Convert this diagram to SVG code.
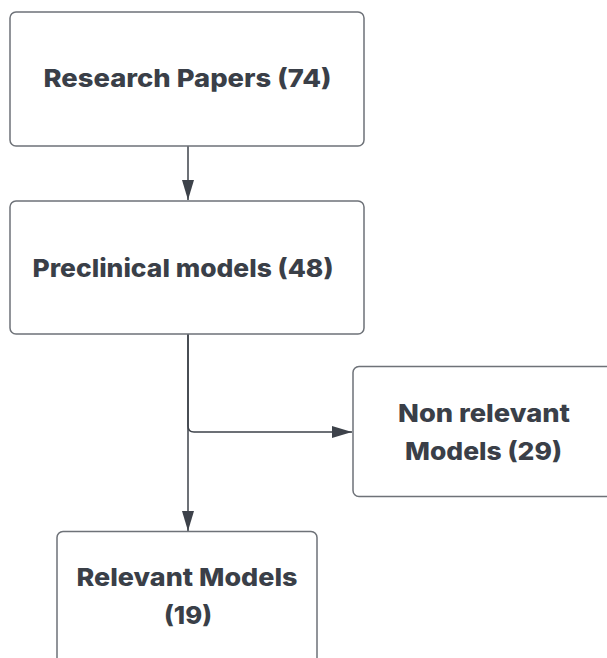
<svg xmlns="http://www.w3.org/2000/svg" width="607" height="658" viewBox="0 0 607 658">
<defs>
<style>
.box{fill:#ffffff;stroke:#6e7278;stroke-width:1.5}
.lbl{font-family:Inter,"Open Sans","Liberation Sans",sans-serif;font-weight:800;font-size:24.5px;fill:#3a3f48;text-anchor:middle}
.conn{fill:none;stroke:#3d424a;stroke-width:1.5}
</style>
<marker id="arr" viewBox="0 0 20 12" refX="20" refY="6" markerWidth="20" markerHeight="12" markerUnits="userSpaceOnUse" orient="auto">
<path d="M0 0 L20 6 L0 12 Z" fill="#3d424a"/>
</marker>
</defs>
<rect width="607" height="658" fill="#ffffff"/>
<g id="connectors">
<path class="conn" d="M188 146 V200" marker-end="url(#arr)"/>
<path class="conn" d="M188 334 V531" marker-end="url(#arr)"/>
<path class="conn" d="M188 334 V426 Q188 432 194 432 H352" marker-end="url(#arr)"/>
</g>
<g id="research-papers">
<rect class="box" x="10" y="12" width="354" height="134" rx="6"/>
<text class="lbl" x="187.5" y="87" textLength="288" lengthAdjust="spacingAndGlyphs">Research Papers (74)</text>
</g>
<g id="preclinical-models">
<rect class="box" x="10" y="201" width="354" height="133" rx="6"/>
<text class="lbl" x="183" y="277" textLength="301" lengthAdjust="spacingAndGlyphs">Preclinical models (48)</text>
</g>
<g id="non-relevant-models">
<rect class="box" x="353" y="366.5" width="262" height="130" rx="6"/>
<text class="lbl" x="484" y="421.5" textLength="172" lengthAdjust="spacingAndGlyphs">Non relevant</text>
<text class="lbl" x="483.5" y="460" textLength="157" lengthAdjust="spacingAndGlyphs">Models (29)</text>
</g>
<g id="relevant-models">
<rect class="box" x="57" y="531.5" width="260" height="140" rx="6"/>
<text class="lbl" x="187" y="586" textLength="221" lengthAdjust="spacingAndGlyphs">Relevant Models</text>
<text class="lbl" x="188" y="624" textLength="48" lengthAdjust="spacingAndGlyphs">(19)</text>
</g>
</svg>
